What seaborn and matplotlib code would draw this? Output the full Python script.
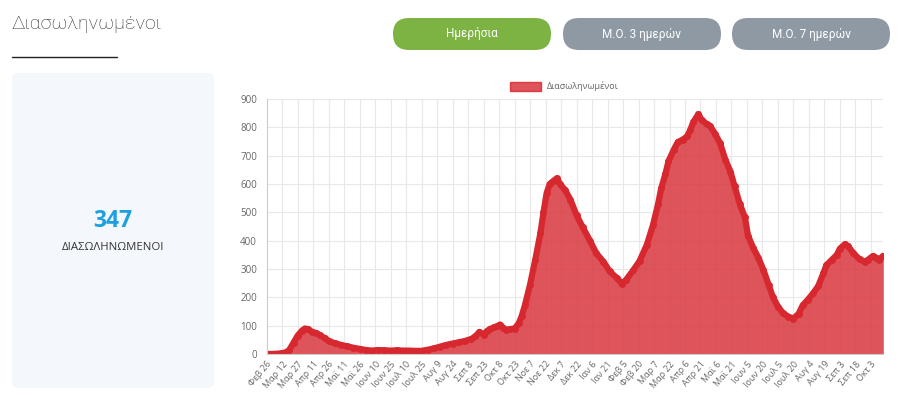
import pandas as pd
import seaborn as sns
import matplotlib.pyplot as plt
from matplotlib.patches import FancyBboxPatch, Rectangle

# intubated patients
dates = [
    "2020-02-26", "2020-03-02", "2020-03-07", "2020-03-12", "2020-03-16", "2020-03-19",
    "2020-03-23", "2020-03-27", "2020-03-31", "2020-04-03", "2020-04-06", "2020-04-10",
    "2020-04-14", "2020-04-18", "2020-04-22", "2020-04-26", "2020-05-02", "2020-05-08",
    "2020-05-14", "2020-05-20", "2020-05-26", "2020-06-01", "2020-06-07", "2020-06-13",
    "2020-06-19", "2020-06-25", "2020-07-01", "2020-07-07", "2020-07-13", "2020-07-19",
    "2020-07-25", "2020-07-31", "2020-08-06", "2020-08-12", "2020-08-18", "2020-08-24",
    "2020-08-30", "2020-09-05", "2020-09-11", "2020-09-15", "2020-09-19", "2020-09-23",
    "2020-09-26", "2020-09-29", "2020-10-03", "2020-10-06", "2020-10-09", "2020-10-12",
    "2020-10-15", "2020-10-19", "2020-10-23", "2020-10-27", "2020-10-30", "2020-11-02",
    "2020-11-07", "2020-11-12", "2020-11-17", "2020-11-20", "2020-11-23", "2020-11-26",
    "2020-11-30", "2020-12-03", "2020-12-06", "2020-12-11", "2020-12-16", "2020-12-22",
    "2020-12-28", "2021-01-04", "2021-01-10", "2021-01-17", "2021-01-23", "2021-01-30",
    "2021-02-04", "2021-02-08", "2021-02-15", "2021-02-21", "2021-02-28", "2021-03-06",
    "2021-03-11", "2021-03-14", "2021-03-18", "2021-03-21", "2021-03-26", "2021-03-30",
    "2021-04-04", "2021-04-08", "2021-04-11", "2021-04-14", "2021-04-19", "2021-04-22",
    "2021-04-27", "2021-04-30", "2021-05-05", "2021-05-10", "2021-05-15", "2021-05-20",
    "2021-05-24", "2021-05-29", "2021-06-03", "2021-06-06", "2021-06-11", "2021-06-16",
    "2021-06-21", "2021-06-26", "2021-06-30", "2021-07-05", "2021-07-10", "2021-07-15",
    "2021-07-20", "2021-07-25", "2021-07-29", "2021-08-03", "2021-08-08", "2021-08-13",
    "2021-08-18", "2021-08-21", "2021-08-26", "2021-08-31", "2021-09-03", "2021-09-08",
    "2021-09-11", "2021-09-16", "2021-09-22", "2021-09-27", "2021-09-30", "2021-10-05",
    "2021-10-08", "2021-10-11", "2021-10-15",
]
values = [
    0, 0, 1, 3, 6, 15,
    40, 65, 82, 90, 88, 78,
    74, 66, 56, 46, 38, 32,
    27, 22, 18, 14, 12, 14,
    13, 12, 13, 12, 12, 11,
    11, 15, 20, 26, 32, 37,
    41, 46, 53, 62, 78, 68,
    80, 88, 94, 98, 104, 92,
    86, 88, 90, 108, 135, 172,
    245, 332, 426, 500, 567, 600,
    612, 620, 600, 578, 545, 490,
    447, 400, 356, 326, 292, 268,
    248, 262, 296, 328, 385, 455,
    530, 585, 635, 680, 720, 748,
    757, 768, 790, 818, 847, 826,
    812, 806, 778, 744, 686, 644,
    592, 530, 482, 418, 375, 340,
    296, 244, 202, 167, 144, 132,
    125, 142, 172, 192, 214, 240,
    285, 314, 332, 350, 372, 388,
    380, 356, 334, 326, 332, 346,
    340, 333, 347,
]
tick_labels = [
    "Φεβ 26", "Μαρ 12", "Μαρ 27", "Απρ 11", "Απρ 26", "Μαϊ 11", "Μαϊ 26", "Ιουν 10",
    "Ιουν 25", "Ιουλ 10", "Ιουλ 25", "Αυγ 9", "Αυγ 24", "Σεπ 8", "Σεπ 23", "Οκτ 8",
    "Οκτ 23", "Νοε 7", "Νοε 22", "Δεκ 7", "Δεκ 22", "Ιαν 6", "Ιαν 21", "Φεβ 5",
    "Φεβ 20", "Μαρ 7", "Μαρ 22", "Απρ 6", "Απρ 21", "Μαϊ 6", "Μαϊ 21", "Ιουν 5",
    "Ιουν 20", "Ιουλ 5", "Ιουλ 20", "Αυγ 4", "Αυγ 19", "Σεπ 3", "Σεπ 18", "Οκτ 3",
]
y_ticks = [0, 100, 200, 300, 400, 500, 600, 700, 800, 900]
buttons = ["Ημερήσια", "Μ.Ο. 3 ημερών", "Μ.Ο. 7 ημερών"]

df = pd.DataFrame({"date": pd.to_datetime(dates), "value": values})
tick_dates = pd.date_range(dates[0], periods=len(tick_labels), freq="15D")

line_color = "#d8282f"
fill_color = "#d9363e"

sns.set_style("white")
plt.rcParams["font.family"] = ["Open Sans", "DejaVu Sans"]

fig = plt.figure(figsize=(9, 3.95), dpi=100)

# page layer, one unit = one pixel
bg = fig.add_axes([0, 0, 1, 1], zorder=0)
bg.set_xlim(0, 900)
bg.set_ylim(395, 0)
bg.axis("off")

bg.text(11, 24, "Διασωληνωμένοι", fontsize=14, family=["Roboto", "DejaVu Sans"],
        fontweight="light", color="#333333", va="center")
bg.plot([12, 117], [57, 57], color="#222222", lw=1)

for i, label in enumerate(buttons):
    x0 = [393, 563, 732][i]
    col = "#7cb342" if i == 0 else "#8f99a4"
    bg.add_patch(FancyBboxPatch((x0, 18), 158, 32, boxstyle="round,pad=0,rounding_size=16",
                                fc=col, ec="none"))
    bg.text(x0 + 79, 34, label, fontsize=8.5, color="white", ha="center", va="center",
            family=["Roboto", "DejaVu Sans"])

# summary card
bg.add_patch(FancyBboxPatch((12, 73), 202, 315, boxstyle="round,pad=0,rounding_size=6",
                            fc="#f4f8fd", ec="none"))
bg.text(113, 221, str(values[-1]), fontsize=16.5, fontweight="bold", color="#1e9fe0",
        ha="center", va="center")
bg.text(113, 247, "ΔΙΑΣΩΛΗΝΩΜΕΝΟΙ", fontsize=8.2, color="#333333", ha="center", va="center")

# legend
bg.add_patch(Rectangle((510, 82), 31, 9, fc=fill_color, ec=line_color, alpha=0.85, lw=1))
bg.text(547, 86.5, "Διασωληνωμένοι", fontsize=6.5, color="#666666", va="center")

# chart
ax = fig.add_axes([266.7 / 900, 1 - 354 / 395, 616.6 / 900, 255 / 395], zorder=1)
ax.set_axisbelow(True)
ax.fill_between(df["date"], df["value"], color=fill_color, alpha=0.85, lw=0)
sns.lineplot(data=df, x="date", y="value", ax=ax, color=line_color, lw=4.5,
             marker="o", markersize=5, markeredgewidth=0)

ax.set_xlim(df["date"].iloc[0], df["date"].iloc[-1])
ax.set_ylim(0, 900)
ax.set_yticks(y_ticks)
ax.set_yticklabels([str(v) for v in y_ticks], fontsize=7, color="#666666")
ax.set_xticks(tick_dates)
ax.set_xticklabels(tick_labels, rotation=50, ha="right", rotation_mode="anchor",
                   fontsize=6.5, color="#666666")
ax.set_xlabel("")
ax.set_ylabel("")
ax.grid(True, color="#e8e8e8", lw=0.8)
ax.tick_params(axis="y", length=5, color="#e8e8e8", pad=2)
ax.tick_params(axis="x", length=3, color="#e8e8e8", pad=1)
for side in ["top", "right"]:
    ax.spines[side].set_visible(False)
for side in ["left", "bottom"]:
    ax.spines[side].set_color("#cccccc")
    ax.spines[side].set_linewidth(0.8)

fig.savefig("out.png", dpi=100)
